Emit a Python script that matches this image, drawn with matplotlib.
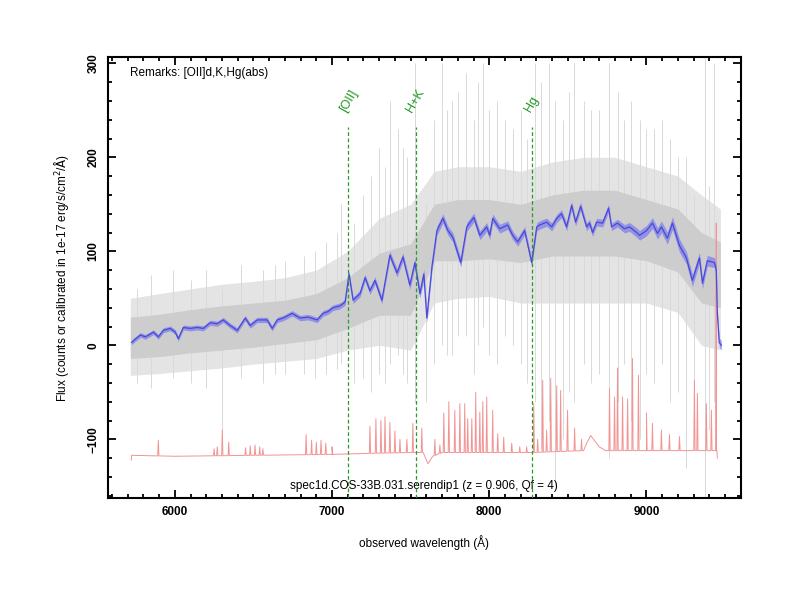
import numpy as np
import matplotlib
matplotlib.use("Agg")
import matplotlib.pyplot as plt

plt.rcParams['font.family'] = ['Liberation Sans', 'DejaVu Sans']

# ---------------- data ----------------
# smoothed (blue) spectrum
blue_wl = [5725, 5737, 5781, 5813, 5864, 5895, 5927, 5971, 6003, 6022, 6054, 6098, 6143, 6181,
           6225, 6270, 6308, 6352, 6397, 6448, 6479, 6524, 6587, 6619, 6651, 6689, 6746, 6797,
           6848, 6905, 6943, 6975, 7006, 7051, 7083, 7108, 7134, 7178, 7210, 7241, 7273, 7317,
           7368, 7413, 7451, 7495, 7527, 7559, 7584, 7603, 7635, 7667, 7705, 7737, 7768, 7819,
           7857, 7902, 7940, 7984, 8003, 8022, 8067, 8117, 8149, 8181, 8225, 8270, 8302, 8320,
           8365, 8397, 8429, 8460, 8492, 8524, 8549, 8581, 8619, 8638, 8657, 8683, 8721, 8759,
           8778, 8816, 8860, 8892, 8937, 8956, 9000, 9038, 9070, 9095, 9133, 9165, 9210, 9254,
           9292, 9337, 9356, 9387, 9432, 9444, 9451, 9463, 9476]
blue_flux = [3, 5, 11, 9, 14, 9, 16, 18, 14, 7, 19, 18, 19, 18,
             24, 23, 27, 21, 16, 29, 21, 27, 27, 18, 27, 29, 34, 29,
             30, 27, 34, 36, 40, 42, 46, 76, 48, 55, 72, 58, 69, 48,
             96, 77, 94, 64, 88, 55, 76, 29, 83, 122, 135, 122, 115, 88,
             126, 136, 117, 126, 117, 135, 124, 128, 117, 110, 122, 88, 126, 128,
             131, 126, 135, 140, 126, 149, 131, 148, 126, 130, 120, 131, 130, 146,
             126, 130, 124, 126, 120, 117, 122, 130, 119, 126, 114, 130, 106, 93,
             69, 93, 66, 90, 88, 80, 34, 3, 0]
# half-width of the blue uncertainty band
band_wl = [5717, 7000, 7600, 8800, 9200, 9476]
band_hw = [2.5, 3, 5, 4, 7, 5]

# raw (gray) spectrum: dense core envelope and wider, sparser envelope
gray_wl = [5717, 5900, 6100, 6300, 6500, 6700, 6900, 7100, 7300, 7500, 7650, 7800, 8000,
           8200, 8400, 8600, 8800, 9000, 9200, 9350, 9470]
gray_hi = [30, 33, 38, 42, 45, 48, 55, 72, 98, 108, 150, 155, 155, 150, 160, 165, 165, 155,
           145, 120, 110]
gray_lo = [-14, -12, -8, -5, -2, 2, 6, 18, 32, 32, 90, 90, 92, 88, 95, 95, 95, 90, 78, 45, 40]
gray_out_hi = [50, 55, 60, 65, 68, 72, 80, 100, 135, 150, 185, 190, 190, 185, 195, 200, 200,
               190, 180, 160, 145]
gray_out_lo = [-32, -30, -27, -24, -20, -17, -14, -5, 0, -5, 45, 50, 52, 45, 45, 45, 45, 45,
               35, 0, -5]
# individual gray spikes: wavelength, low end, high end
spike_wl = [5760, 5850, 5990, 6100, 6200, 6300, 6420, 6560, 6640, 6700, 6820, 6890, 6960,
            7030, 7060, 7140, 7200, 7250, 7300, 7340, 7370, 7420, 7450, 7480, 7530, 7600,
            7650, 7700, 7730, 7760, 7800, 7850, 7900, 7930, 7960, 8000, 8050, 8100, 8150,
            8200, 8240, 8290, 8330, 8380, 8420, 8470, 8510, 8540, 8600, 8650, 8700, 8760,
            8820, 8860, 8900, 8960, 9000, 9050, 9100, 9150, 9200, 9250, 9300, 9370, 9400,
            9430]
spike_lo = [-40, -45, -35, -40, -45, -100, -35, -40, -30, -30, -30, -35, -30,
            -25, -20, -40, -35, -50, -30, -40, -20, -10, -30, -40, -60, -60,
            -20, 0, -10, -10, 10, 10, -30, 0, 20, -10, -20, 10, 0,
            -20, -40, -60, -110, -80, -150, -100, -50, -60, -20, -40, -30, -120,
            -60, -20, -80, -100, -30, -40, -20, -60, -50, -130, -80, -165, -90,
            -60]
spike_hi = [60, 75, 80, 70, 80, 60, 85, 80, 85, 90, 95, 100, 110,
            120, 150, 130, 160, 180, 210, 190, 260, 230, 210, 200, 300, 150,
            240, 300, 250, 260, 270, 290, 240, 280, 300, 250, 260, 240, 230,
            250, 220, 300, 280, 300, 260, 240, 270, 300, 260, 250, 250, 300,
            270, 240, 260, 240, 230, 230, 240, 220, 200, 200, 160, 306, 170,
            300]

# error (red) spectrum: baseline and emission-like spikes
red_base_wl = [5723, 5725, 6000, 6500, 7000, 7215, 7500, 7580, 7610, 7640, 7700, 8000,
               8280, 8600, 8620, 8645, 8700, 8740, 9000, 9300, 9445, 9451]
red_base = [-122, -117, -118, -117, -116, -115, -114, -114, -126, -118, -114, -114,
            -114, -112, -104, -96, -108, -112, -112, -112, -112, -120]
red_spk_wl = [5895, 6250, 6270, 6302, 6343, 6450, 6480, 6510, 6540, 6560, 6835, 6870, 6900,
              6930, 6960, 7000, 7241, 7279, 7311, 7337, 7368, 7400, 7432, 7476, 7514, 7571,
              7654, 7686, 7711, 7743, 7781, 7813, 7844, 7863, 7889, 7914, 7940, 7959, 7984,
              8022, 8054, 8092, 8143, 8194, 8238, 8283, 8308, 8340, 8365, 8391, 8429, 8454,
              8498, 8543, 8587, 8765, 8797, 8816, 8848, 8880, 8911, 8949, 9000, 9038, 9095,
              9146, 9210, 9305, 9324, 9381, 9413, 9444]
red_spk_top = [-101, -110, -108, -90, -103, -109, -107, -106, -108, -110, -95, -101, -103,
               -101, -104, -108, -86, -78, -80, -76, -82, -91, -100, -100, -83, -88,
               -100, -106, -72, -60, -69, -62, -62, -78, -78, -50, -71, -60, -55,
               -69, -94, -98, -104, -108, -108, -62, -100, -37, -90, -35, -43, -48,
               -69, -88, -100, -46, -55, -24, -55, -57, -14, -32, -72, -83, -90,
               -95, -97, -37, -51, -62, -69, 130]

# line identifications
line_names = ['[OII]', 'H+K', 'Hg']
line_wl = [7104, 7531, 8272]

remarks = 'Remarks: [OII]d,K,Hg(abs)'
title = 'spec1d.COS-33B.031.serendip1 (z = 0.906, Qf = 4)'

# ---------------- figure ----------------
fig = plt.figure(figsize=(8, 6), dpi=100)
ax = fig.add_axes([0.135, 0.17, 0.791, 0.735])

# gray raw spectrum
ax.fill_between(gray_wl, gray_out_lo, gray_out_hi, color='#e4e4e4', lw=0, zorder=1)
ax.vlines(spike_wl, spike_lo, spike_hi, color='#d9d9d9', lw=0.7, zorder=1.5)
ax.fill_between(gray_wl, gray_lo, gray_hi, color='#cdcdcd', lw=0, zorder=2)

# red error spectrum
pts = list(zip(red_base_wl, red_base))
for w, t in zip(red_spk_wl, red_spk_top):
    b = float(np.interp(w, red_base_wl, red_base))
    pts += [(w - 4, b), (w, t), (w + 4, b)]
pts.sort()
ax.plot([p[0] for p in pts], [p[1] for p in pts], color='#f29494', lw=0.7, zorder=3)

# blue smoothed spectrum with band
hw = np.interp(blue_wl, band_wl, band_hw)
bf = np.array(blue_flux, dtype=float)
ax.fill_between(blue_wl, bf - hw, bf + hw, color='#8080ec', alpha=0.75, lw=0, zorder=4)
ax.plot(blue_wl, blue_flux, color='#4848dc', lw=0.9, zorder=5)

# line markers
for name, w in zip(line_names, line_wl):
    ax.plot([w, w], [-162.4, 232], color='#2a9a2a', lw=0.9, ls=(0, (3, 2)), zorder=6)
    ax.text(w, 246, name, color='#1f9a1f', rotation=60, ha='center', va='bottom',
            fontsize=9)

ax.text(0.035, 0.964, remarks, transform=ax.transAxes, fontsize=8.5, va='center', ha='left')
ax.text(0.5, 0.027, title, transform=ax.transAxes, fontsize=8.5, va='center', ha='center')

ax.set_xlim(5575, 9597)
ax.set_ylim(-162.4, 306.7)
ax.set_xticks([6000, 7000, 8000, 9000])
ax.set_xticks(np.arange(5600, 9601, 100), minor=True)
ax.set_yticks([-100, 0, 100, 200, 300])
ax.set_yticks(np.arange(-160, 307, 20), minor=True)
ax.tick_params(which='both', direction='in', top=True, right=True, width=1.3)
ax.tick_params(which='major', length=6, labelsize=8.5, pad=6)
ax.tick_params(which='minor', length=3)
for lab in ax.get_xticklabels() + ax.get_yticklabels():
    lab.set_fontweight('bold')
for lab in ax.get_yticklabels():
    lab.set_rotation(90)
    lab.set_va('center')
for s in ax.spines.values():
    s.set_linewidth(1.5)

ax.set_xlabel('observed wavelength (Å)', fontsize=8.5, labelpad=12)
ax.set_ylabel('Flux (counts or calibrated in 1e-17 erg/s/cm$^2$/$\\mathrm{\\AA}$)', fontsize=8.5,
              labelpad=12)

fig.savefig('out.png', dpi=100)
